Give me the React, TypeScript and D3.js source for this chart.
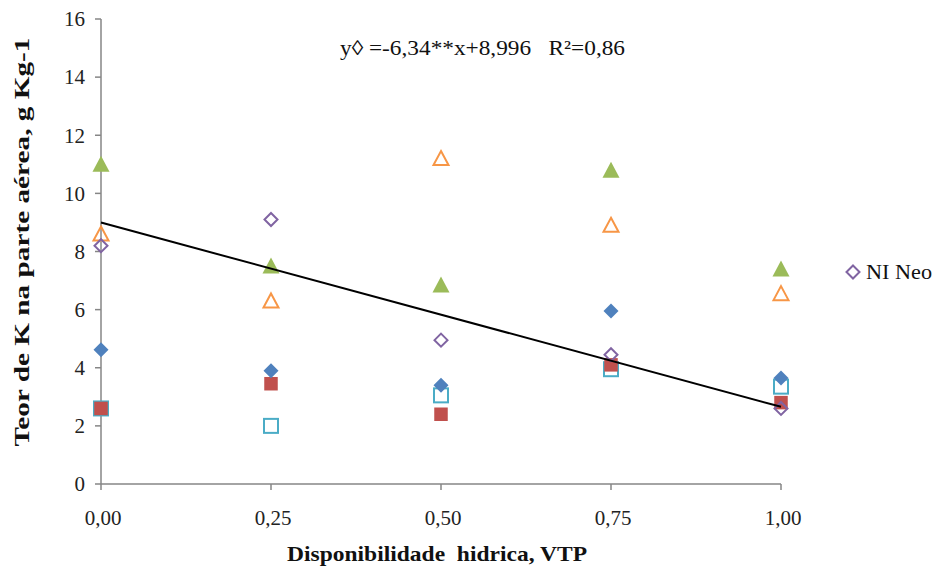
import React from "react";
import * as d3 from "d3";

const xValues = [0, 0.25, 0.5, 0.75, 1];
const blueDiamond = [4.62, 3.9, 3.4, 5.95, 3.65];
const redSquare = [2.6, 3.45, 2.4, 4.1, 2.8];
const greenTriangle = [11.0, 7.5, 6.85, 10.8, 7.4];
const purpleDiamondOpen = [8.2, 9.1, 4.95, 4.45, 2.6];
const cyanSquareOpen = [2.6, 2.0, 3.05, 3.95, 3.35];
const orangeTriangleOpen = [8.6, 6.3, 11.2, 8.9, 6.55];
const yTicks = [0, 2, 4, 6, 8, 10, 12, 14, 16];
const xTickLabels = ["0,00", "0,25", "0,50", "0,75", "1,00"];
const slope = -6.34;
const intercept = 8.996;
const equationText = "y◊ =-6,34**x+8,996   R²=0,86";
const legendLabel = "NI Neo";
const yTitle = "Teor de K na parte aérea, g Kg-1";
const xTitle = "Disponibilidade  hidrica, VTP";

const W = 936, H = 572;
const x = d3.scaleLinear().domain([0, 1]).range([101, 781]);
const y = d3.scaleLinear().domain([0, 16]).range([484, 19]);
const font = "'Liberation Serif', 'Times New Roman', serif";
const axisColor = "#868686";

type Shape = "diamond" | "square" | "triangle";
function Marker({ cx, cy, shape, color, filled }: { cx: number; cy: number; shape: Shape; color: string; filled: boolean }) {
  const sw = filled ? 0 : 2;
  if (shape === "diamond") {
    const r = filled ? 7.5 : 6.5;
    return <path d={`M${cx},${cy - r}L${cx + r},${cy}L${cx},${cy + r}L${cx - r},${cy}Z`} fill={filled ? color : "none"} stroke={color} strokeWidth={sw} />;
  }
  if (shape === "square") {
    const s = filled ? 13.5 : 14;
    return <rect x={cx - s / 2} y={cy - s / 2} width={s} height={s} fill={filled ? color : "none"} stroke={color} strokeWidth={sw} />;
  }
  const w = filled ? 17 : 15, h = filled ? 15 : 13;
  return <path d={`M${cx},${cy - h / 2 - 1}L${cx + w / 2},${cy + h / 2}L${cx - w / 2},${cy + h / 2}Z`} fill={filled ? color : "none"} stroke={color} strokeWidth={sw} />;
}

const series: { vals: number[]; shape: Shape; color: string; filled: boolean }[] = [
  { vals: blueDiamond, shape: "diamond", color: "#4F81BD", filled: true },
  { vals: redSquare, shape: "square", color: "#C0504D", filled: true },
  { vals: greenTriangle, shape: "triangle", color: "#9BBB59", filled: true },
  { vals: purpleDiamondOpen, shape: "diamond", color: "#8064A2", filled: false },
  { vals: cyanSquareOpen, shape: "square", color: "#4BACC6", filled: false },
  { vals: orangeTriangleOpen, shape: "triangle", color: "#F79646", filled: false },
];
const drawOrder = [4, 1, 0, 5, 2, 3];

export default function App() {
  return (
    <svg width={W} height={H} style={{ position: "absolute", left: 0, top: 0, background: "white" }} fontFamily={font}>
      <line x1={x(0)} x2={x(0)} y1={y(16)} y2={y(0)} stroke={axisColor} strokeWidth={1.5} />
      <line x1={x(0)} x2={x(1)} y1={y(0)} y2={y(0)} stroke={axisColor} strokeWidth={1.5} />
      {yTicks.map((t) => (
        <g key={t}>
          <line x1={x(0) - 6} x2={x(0)} y1={y(t)} y2={y(t)} stroke={axisColor} strokeWidth={1.5} />
          <text x={85} y={y(t)} dy="0.35em" textAnchor="end" fontSize={21} fill="#222">{t}</text>
        </g>
      ))}
      {xValues.map((v, i) => (
        <g key={v}>
          <line x1={x(v)} x2={x(v)} y1={y(0)} y2={y(0) + 6} stroke={axisColor} strokeWidth={1.5} />
          <text x={x(v) + 2} y={525} textAnchor="middle" fontSize={21} fill="#222">{xTickLabels[i]}</text>
        </g>
      ))}
      {drawOrder.map((si) => {
        const s = series[si];
        return (
          <g key={si}>
            {s.vals.map((v, i) => (
              <Marker key={i} cx={x(xValues[i])} cy={y(v)} shape={s.shape} color={s.color} filled={s.filled} />
            ))}
          </g>
        );
      })}
      <line x1={x(0)} y1={y(intercept)} x2={x(1)} y2={y(intercept + slope)} stroke="black" strokeWidth={2} />
      <text x={340} y={55} fontSize={21} fill="#111" style={{ whiteSpace: "pre" }} xmlSpace="preserve" textLength={285} lengthAdjust="spacingAndGlyphs">{equationText}</text>
      <Marker cx={853} cy={272} shape="diamond" color="#8064A2" filled={false} />
      <text x={866} y={279} fontSize={21} fill="#111" textLength={66} lengthAdjust="spacingAndGlyphs">{legendLabel}</text>
      <text transform={`translate(29,242) rotate(-90)`} textAnchor="middle" fontSize={20} fontWeight="bold" fill="#111" textLength={409} lengthAdjust="spacingAndGlyphs">{yTitle}</text>
      <text x={287} y={561} fontSize={21} fontWeight="bold" fill="#111" textLength={300} lengthAdjust="spacingAndGlyphs" style={{ whiteSpace: "pre" }} xmlSpace="preserve">{xTitle}</text>
    </svg>
  );
}
